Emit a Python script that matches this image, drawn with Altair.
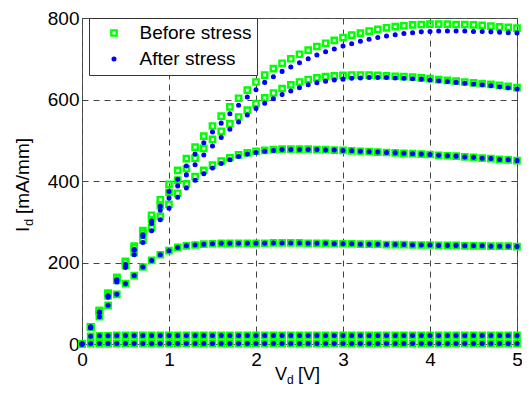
import altair as alt
import pandas as pd

# Drain voltage sweep (V)
vd = [i / 10 for i in range(51)]

# Drain current (mA/mm) for each gate-voltage curve
i_a = [0, 1, 1, 1, 1, 1, 1, 1, 1, 1,
       1, 1, 1, 1, 1, 1, 1, 1, 1, 1,
       1, 1, 1, 1, 1, 1, 1, 1, 1, 1,
       1, 1, 1, 1, 1, 1, 1, 1, 1, 1,
       1, 1, 1, 1, 1, 1, 1, 1, 1, 1, 1]
i_b = [0, 19, 20, 20, 21, 21, 21, 21, 21, 21,
       21, 21, 21, 21, 21, 21, 21, 21, 21, 21,
       21, 21, 21, 21, 21, 21, 21, 21, 21, 21,
       21, 21, 21, 21, 21, 21, 21, 21, 21, 21,
       21, 21, 21, 21, 21, 21, 21, 21, 21, 21, 21]
i_c = [0, 42, 67, 95, 122, 148, 168, 189, 205, 219,
       229, 237, 241, 243, 245, 246, 247, 247, 247, 247,
       247, 247, 248, 248, 248, 248, 247, 247, 247, 246,
       246, 246, 245, 245, 245, 244, 244, 244, 243, 243,
       243, 242, 242, 242, 241, 241, 241, 240, 240, 240, 239]
i_d_before = [0, 42, 80, 118, 156, 193, 224, 255, 285, 313,
              343, 370, 393, 411, 426, 439, 449, 457, 464, 469,
              473, 475, 477, 478, 478, 478, 478, 477, 477, 476,
              475, 474, 473, 472, 471, 470, 469, 468, 467, 466,
              465, 463, 462, 461, 459, 458, 456, 455, 453, 452, 450]
i_d_after = [0, 41, 78, 115, 152, 188, 219, 249, 278, 305,
             333, 360, 383, 402, 418, 432, 443, 452, 460, 466,
             470, 473, 475, 477, 477, 477, 477, 477, 476, 476,
             475, 474, 473, 472, 471, 470, 469, 468, 467, 466,
             465, 463, 462, 461, 459, 458, 456, 455, 453, 452, 450]
i_e_before = [0, 42, 82, 124, 163, 201, 236, 272, 305, 340,
              372, 402, 430, 456, 480, 502, 522, 540, 557, 574,
              590, 604, 616, 627, 636, 643, 649, 653, 656, 658,
              659, 660, 660, 660, 659, 658, 657, 656, 655, 653,
              651, 649, 647, 645, 643, 641, 639, 637, 635, 632, 629]
i_e_after = [0, 40, 78, 118, 157, 194, 230, 264, 296, 328,
             358, 388, 415, 440, 464, 486, 507, 527, 545, 562,
             578, 591, 602, 612, 621, 629, 636, 641, 645, 648,
             650, 652, 653, 654, 654, 654, 653, 652, 651, 650,
             648, 646, 644, 642, 640, 638, 636, 634, 631, 629, 626]
i_f_before = [0, 42, 82, 124, 163, 203, 240, 278, 316, 354,
              392, 426, 455, 483, 510, 535, 559, 582, 603, 623,
              643, 660, 676, 689, 700, 711, 721, 730, 738, 745,
              752, 758, 763, 768, 772, 776, 779, 781, 783, 784,
              785, 785, 785, 784, 784, 783, 782, 780, 778, 777, 775]
i_f_after = [0, 40, 78, 118, 157, 195, 232, 268, 302, 338,
             374, 404, 437, 466, 494, 520, 542, 565, 586, 606,
             624, 642, 656, 669, 680, 690, 700, 709, 717, 724,
             731, 737, 743, 748, 752, 756, 759, 762, 764, 766,
             767, 768, 768, 768, 768, 767, 767, 766, 765, 764, 763]

series_names = ["Before stress", "After stress"]
x_ticks = [0, 1, 2, 3, 4, 5]
y_ticks = [0, 200, 400, 600, 800]

curves = {
    "Before stress": [i_a, i_b, i_c, i_d_before, i_e_before, i_f_before],
    "After stress": [i_a, i_b, i_c, i_d_after, i_e_after, i_f_after],
}

rows = []
for s in series_names:
    for k, cur in enumerate(curves[s]):
        assert len(cur) == len(vd)
        for x, y in zip(vd, cur):
            rows.append({"vd": x, "id": y, "series": s, "curve": k})
df = pd.DataFrame(rows)

FONT = "Liberation Sans"
leg = alt.Legend(title=None, symbolOffset=10)

points = alt.Chart(df).mark_point(opacity=1, strokeWidth=2.4, filled=False).encode(
    x=alt.X("vd:Q", scale=alt.Scale(domain=[0, 5], nice=False, padding=0),
            axis=alt.Axis(values=x_ticks, title=None, format="d", labelPadding=6, labelFlush=False)),
    y=alt.Y("id:Q", scale=alt.Scale(domain=[0, 800], nice=False, padding=0),
            axis=alt.Axis(values=y_ticks, title=None, format="d", labelPadding=3, labelFlush=False)),
    color=alt.Color("series:N", scale=alt.Scale(domain=series_names, range=["#00ff00", "#0000ff"]), legend=leg),
    fill=alt.Fill("series:N", scale=alt.Scale(domain=series_names, range=["rgba(0,0,0,0)", "#0000ff"]), legend=leg),
    shape=alt.Shape("series:N", scale=alt.Scale(domain=series_names, range=["square", "circle"]), legend=leg),
    size=alt.Size("series:N", scale=alt.Scale(domain=series_names, range=[28, 7]), legend=leg),
)

one = pd.DataFrame({"k": [0]})

def txt(t, x, y, size, angle=0):
    return alt.Chart(one).mark_text(text=t, font=FONT, fontSize=size, align="left",
                                    baseline="alphabetic", angle=angle, color="black").encode(
        x=alt.value(x), y=alt.value(y))

titles = [
    txt("V", 193, 362, 18),
    txt("d", 205, 365.5, 12),
    txt("[V]", 216, 362, 18),
    txt("I", -53, 214, 19, 270),
    txt("d", -49, 208, 13, 270),
    txt("[mA/mm]", -53, 196, 19, 270),
]

chart = alt.layer(points, *titles).properties(
    width=435, height=326,
    autosize=alt.AutoSizeParams(type="none"),
    padding={"left": 74, "top": 10, "right": 5, "bottom": 43},
).configure_view(
    stroke="#555", strokeWidth=1
).configure_axis(
    labelFont=FONT, labelFontSize=19, labelColor="black",
    domain=False, ticks=False,
    grid=True, gridColor="#444", gridDash=[6, 5], gridWidth=1, gridOpacity=1,
).configure_legend(
    orient="none", legendX=7, legendY=0,
    fillColor="white", strokeColor="#333", strokeWidth=1,
    padding=5.5, rowPadding=6,
    labelFont=FONT, labelFontSize=19, labelColor="black",
    symbolStrokeWidth=2.4, labelOffset=16, symbolOffset=10,
)

chart.save("out.html", embed_options={"renderer": "svg", "actions": False})
